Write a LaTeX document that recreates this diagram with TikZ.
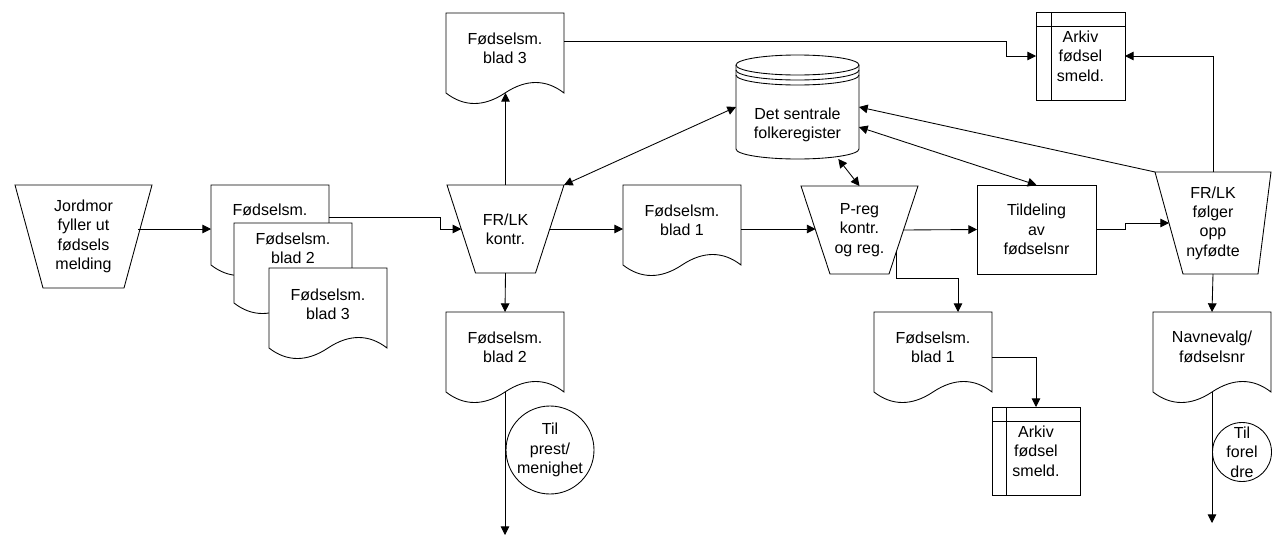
\documentclass[tikz,border=0pt]{standalone}
\usepackage{fontspec}
\setmainfont{Liberation Sans}
\usetikzlibrary{arrows.meta,calc}
\newcommand\mkdoc[5]{% name, x0, ytop, text, text raise
  \begin{scope}[shift={(#2,#3)}]
    \draw[ln,fill=white] (0,0) -- (118,0) -- (118,80)
      .. controls (100,66) and (80,66) .. (59,80)
      .. controls (38,94) and (18,94) .. (0,80) -- cycle;
  \end{scope}
  \node[geom, minimum width=88.5pt, minimum height=66pt,
        label={[txt,yshift=#5]center:{#4}}] (#1) at ({#2+59},{#3+44}) {};
}
\newcommand\mktrap[8]{% name, cx, cy, top width, height, inset left, inset right, text
  \node[geom, txt, minimum width={#4*0.75pt}, minimum height={#5*0.75pt}] (#1) at (#2,#3) {#8};
  \draw[ln] (#1.north west) -- (#1.north east) -- ($(#1.south east)+(-#7,0)$)
     -- ($(#1.south west)+(#6,0)$) -- cycle;
  \coordinate (#1-L) at ($(#1.west)+({#6/2},0)$);
  \coordinate (#1-R) at ($(#1.east)+({-#7/2},0)$);
}
\begin{document}
\begin{tikzpicture}[x=0.75pt,y=-0.75pt,
  ln/.style={draw=black,line width=0.65pt},
  arr/.style={ln,-{Triangle[length=6.5pt,width=6.5pt]}},
  darr/.style={ln,{Triangle[length=6.5pt,width=6.5pt]}-{Triangle[length=6.5pt,width=6.5pt]}},
  txt/.style={font=\fontsize{12pt}{14.5pt}\selectfont, align=center, inner sep=0pt},
  geom/.style={inner sep=0pt, outer sep=0pt, draw=none, rectangle},
  box/.style={rectangle, inner sep=0pt, outer sep=0pt, ln, txt},
  circ/.style={circle, inner sep=0pt, outer sep=0pt, ln},
]
\useasboundingbox (0,0) rectangle (1272,536);

% processes (trapezoids)
\mktrap{jord}{83.5}{236.5}{137}{103}{28}{28}{Jordmor\\fyller ut\\fødsels\\melding}
\mktrap{frlk}{505.5}{229}{117}{88}{28.5}{28.5}{FR/LK\\kontr.}
\mktrap{preg}{859.5}{230}{117}{88}{29}{29}{P-reg\\kontr.\\og reg.}
\mktrap{fr2}{1213}{223}{116}{102}{28}{13}{FR/LK\\følger\\opp\\nyfødte}

% documents
\mkdoc{s1}{211}{185}{Fødselsm.}{14.25pt}
\mkdoc{s2}{234}{223}{Fødselsm.\\blad 2}{14.25pt}
\mkdoc{s3}{269}{268}{Fødselsm.\\blad 3}{6pt}
\mkdoc{d3}{446}{13}{Fødselsm.\\blad 3}{6.75pt}
\mkdoc{b1}{623}{185}{Fødselsm.\\blad 1}{6.75pt}
\mkdoc{b2}{446}{312}{Fødselsm.\\blad 2}{6.75pt}
\mkdoc{b1l}{874}{312}{Fødselsm.\\blad 1}{6.75pt}
\mkdoc{nav}{1153}{312}{Navnevalg/\\fødselsnr}{6.75pt}

% process box
\node[box, minimum width=89.25pt, minimum height=66.75pt] (tild) at (1036.5,229.5) {Tildeling\\av\\fødselsnr};

% archives
\node[box, minimum width=66.75pt, minimum height=66pt] (ark1) at (1080.5,56) {Arkiv\\fødsel\\smeld.};
\draw[ln] ($(ark1.north west)+(15,0)$) -- ($(ark1.south west)+(15,0)$);
\draw[ln] ($(ark1.north west)+(0,14)$) -- ($(ark1.north east)+(0,14)$);
\node[box, minimum width=66pt, minimum height=66pt] (ark2) at (1036,451) {Arkiv\\fødsel\\smeld.};
\draw[ln] ($(ark2.north west)+(14,0)$) -- ($(ark2.south west)+(14,0)$);
\draw[ln] ($(ark2.north west)+(0,14)$) -- ($(ark2.north east)+(0,14)$);

% database cylinder
\node[geom, minimum width=92.25pt, minimum height=78pt,
      label={[txt,yshift=-13.5pt]center:{Det sentrale\\folkeregister}}] (cyl) at (797.5,107) {};
\begin{scope}[shift={(cyl.north west)}]
  \draw[ln] (0,10) .. controls (0,4.477) and (27.53,0) .. (61.5,0)
    .. controls (95.47,0) and (123,4.477) .. (123,10) -- (123,94)
    .. controls (123,99.52) and (95.47,104) .. (61.5,104)
    .. controls (27.53,104) and (0,99.52) .. (0,94) -- cycle;
  \foreach \c in {10,15,20}
    \draw[ln] (0,\c) .. controls (0,\c+5.523) and (27.53,\c+10) .. (61.5,\c+10)
      .. controls (95.47,\c+10) and (123,\c+5.523) .. (123,\c);
\end{scope}

% off-page connectors
\node[circ, minimum size=66pt, label={[txt]center:{Til\\prest/\\menighet}}] (c1) at (550,450) {};
\node[circ, minimum size=44.25pt, label={[txt]center:{Til\\forel\\dre}}] (c2) at (1242,452) {};

% free ends
\coordinate (end1) at (505,535);
\coordinate (end2) at (1212,523);

% connectors
\draw[arr] (s1.west -| jord-R) -- (s1.west);
\draw[arr] ($(s1.east)+(0,-12)$) -| ($(frlk-L)+(-21,0)$) -- (frlk-L);
\draw[arr] (frlk.north) -- ($(frlk.north |- d3.south)+(0,-8)$);
\draw[arr] ($(d3.east)+(0,-16)$) -| ($(ark1.west)+(-30,0)$) -- (ark1.west);
\draw[darr] (frlk.north east) -- (cyl.west);
\draw[arr] (frlk-R) -- (b1.west);
\draw[arr] (frlk.south) -- (b2.north);
\draw[arr] ($(b2.south)+(0,-8)$) -- (end1);
\draw[arr] (b1.east) -- (b1.east -| preg-L);
\draw[darr] (preg.north) -- (cyl);
\draw[arr] (preg-R) -- (tild.west);
\draw[arr] ($(preg.south east)+(-22,-22)$) -- ++(0,26) -| ($(b1l.north)+(25,0)$);
\draw[arr] ($(b1l.east)+(0,1)$) -| (ark2.north);
\draw[darr] (tild.north) -- (cyl);
\draw[arr] (tild.east) -| ($(fr2-L)+(-44,0)$) -- (fr2-L);
\draw[arr] (fr2.north west) -- (cyl.east);
\draw[arr] (fr2.north) |- (ark1.east);
\draw[arr] (fr2.south) -- (nav.north);
\draw[arr] ($(nav.south)+(0,-8)$) -- (end2);
\end{tikzpicture}
\end{document}
